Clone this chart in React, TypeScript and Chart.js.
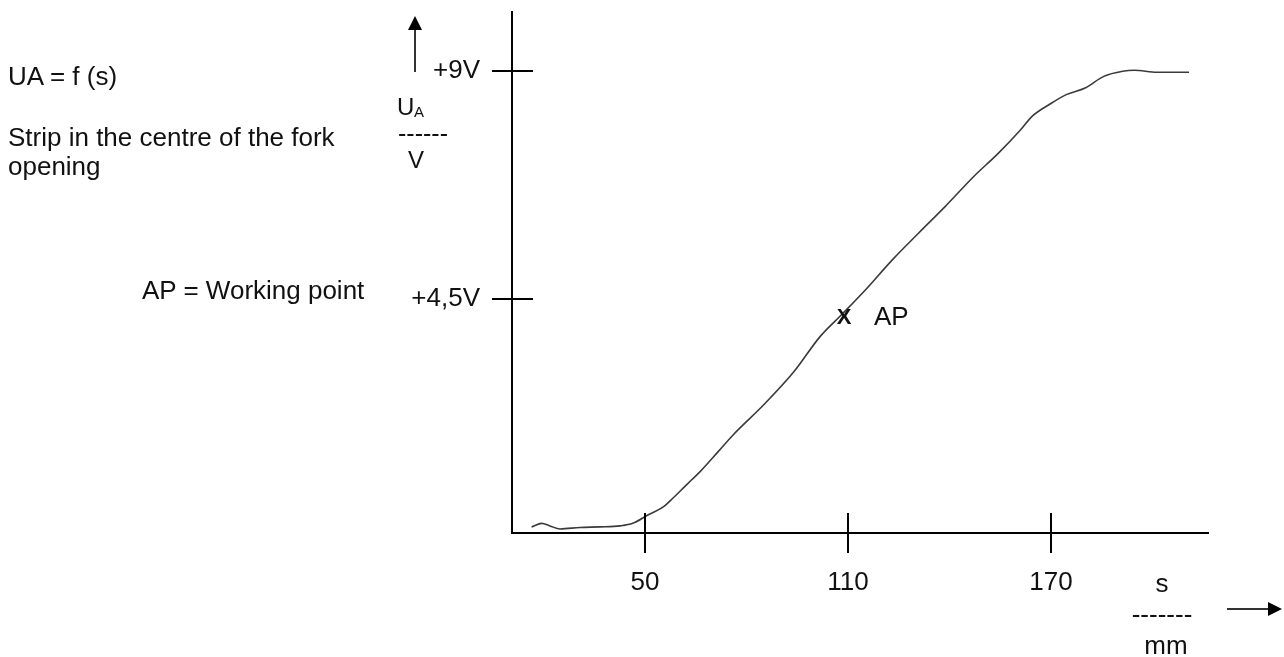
import React, { useEffect, useRef } from "react";
import { Chart, registerables } from "chart.js";

Chart.register(...registerables);

// ---- data ----
const S_MM = [16.5, 19.5, 21.9, 24.9, 30.8, 36.7, 42.6, 46.4, 51.0, 55.3, 58.3, 61.2, 63.8, 66.3, 71.7, 76.1, 85.1, 94.0, 101.8, 108.3, 115.2, 123.1, 130.9, 138.7, 147.1, 154.4, 161.1, 164.4, 169.4, 174.5, 180.1, 185.6, 191.2, 194.6, 201.3, 210.8];
const UA_V = [0.0, 0.07, 0.02, -0.04, -0.01, 0.0, 0.02, 0.07, 0.24, 0.39, 0.57, 0.76, 0.93, 1.09, 1.49, 1.82, 2.41, 3.06, 3.76, 4.2, 4.68, 5.27, 5.8, 6.32, 6.91, 7.37, 7.84, 8.1, 8.33, 8.53, 8.66, 8.89, 8.99, 9.01, 8.97, 8.97];
const AP_S = [110];
const AP_V = [4.12];
const X_TICKS = [50, 110, 170];
const Y_TICKS = [4.5, 9];
const Y_TICK_LABELS = ["+4,5V", "+9V"];
const X_RANGE = [10.7, 216.4];
const Y_RANGE = [-0.12, 10.16];

const FONT = "'Liberation Sans', Arial, Helvetica, sans-serif";
const INK = "#111";

const annotPlugin = {
  id: "annot",
  afterDraw(chart: any) {
    const ctx = chart.ctx as CanvasRenderingContext2D;
    const xs = chart.scales.x;
    const ys = chart.scales.y;
    const a = chart.chartArea;
    ctx.save();
    // inner halves of the crossing tick marks
    ctx.strokeStyle = "#000";
    ctx.lineWidth = 2;
    for (const t of X_TICKS) {
      const px = Math.round(xs.getPixelForValue(t));
      ctx.beginPath();
      ctx.moveTo(px, a.bottom);
      ctx.lineTo(px, a.bottom - 20);
      ctx.stroke();
    }
    for (const t of Y_TICKS) {
      const py = Math.round(ys.getPixelForValue(t));
      ctx.beginPath();
      ctx.moveTo(a.left, py);
      ctx.lineTo(a.left + 21, py);
      ctx.stroke();
    }

    // working point marker
    const pt = chart.getDatasetMeta(1).data[0];
    ctx.fillStyle = INK;
    ctx.textBaseline = "middle";
    ctx.textAlign = "center";
    ctx.font = `bold 22px ${FONT}`;
    ctx.fillText("X", pt.x - 4, pt.y);
    ctx.textAlign = "left";
    ctx.font = `26px ${FONT}`;
    ctx.fillText("AP", pt.x + 26, pt.y);

    // y-axis quantity arrow
    ctx.strokeStyle = "#333";
    ctx.lineWidth = 2;
    ctx.beginPath();
    ctx.moveTo(415, 72);
    ctx.lineTo(415, 28);
    ctx.stroke();
    ctx.fillStyle = "#000";
    ctx.beginPath();
    ctx.moveTo(408, 30);
    ctx.lineTo(422, 30);
    ctx.lineTo(415, 16);
    ctx.closePath();
    ctx.fill();

    // x-axis quantity arrow
    ctx.beginPath();
    ctx.moveTo(1227, 609);
    ctx.lineTo(1270, 609);
    ctx.stroke();
    ctx.beginPath();
    ctx.moveTo(1268, 602);
    ctx.lineTo(1268, 616);
    ctx.lineTo(1282, 609);
    ctx.closePath();
    ctx.fill();

    // unit labels
    ctx.fillStyle = INK;
    ctx.textBaseline = "alphabetic";
    ctx.textAlign = "left";
    ctx.font = `24px ${FONT}`;
    ctx.fillText("U", 397, 115);
    ctx.font = `15px ${FONT}`;
    ctx.fillText("A", 414, 117);
    ctx.textAlign = "center";
    ctx.font = `25px ${FONT}`;
    ctx.fillText("------", 423, 142);
    ctx.font = `24px ${FONT}`;
    ctx.fillText("V", 416, 168);

    ctx.font = `26px ${FONT}`;
    ctx.fillText("s", 1162, 592);
    ctx.fillText("-------", 1162, 623);
    ctx.fillText("mm", 1166, 654);
    ctx.restore();
  },
};

export default function App() {
  const ref = useRef<HTMLCanvasElement>(null);

  useEffect(() => {
    const chart = new Chart(ref.current as HTMLCanvasElement, {
      type: "line",
      data: {
        datasets: [
          {
            data: S_MM.map((s, i) => ({ x: s, y: UA_V[i] })),
            borderColor: "#3a3a3a",
            borderWidth: 1.6,
            pointRadius: 0,
            cubicInterpolationMode: "monotone",
            fill: false,
          },
          {
            data: AP_S.map((s, i) => ({ x: s, y: AP_V[i] })),
            pointRadius: 0,
            showLine: false,
            borderColor: "rgba(0,0,0,0)",
          },
        ],
      },
      options: {
        responsive: false,
        animation: false,
        events: [],
        layout: { padding: { left: 0, right: 76, top: 12, bottom: 0 } },
        plugins: { legend: { display: false }, tooltip: { enabled: false } },
        scales: {
          x: {
            type: "linear",
            min: X_RANGE[0],
            max: X_RANGE[1],
            afterBuildTicks: (s: any) => {
              s.ticks = X_TICKS.map((v) => ({ value: v }));
            },
            afterFit: (s: any) => {
              s.height = 124;
              s.paddingLeft = 0;
              s.paddingRight = 0;
            },
            grid: { display: true, drawOnChartArea: false, drawTicks: true, tickLength: 20, color: "#000", lineWidth: 2 },
            border: { display: true, color: "#000", width: 2 },
            ticks: {
              padding: 14,
              color: INK,
              font: { family: FONT, size: 26 },
              maxRotation: 0,
              autoSkip: false,
              callback: (v: any) => String(v),
            },
          },
          y: {
            type: "linear",
            min: Y_RANGE[0],
            max: Y_RANGE[1],
            afterBuildTicks: (s: any) => {
              s.ticks = Y_TICKS.map((v) => ({ value: v }));
            },
            afterFit: (s: any) => {
              s.width = 512;
              s.paddingTop = 0;
              s.paddingBottom = 0;
            },
            grid: { display: true, drawOnChartArea: false, drawTicks: true, tickLength: 20, color: "#000", lineWidth: 2 },
            border: { display: true, color: "#000", width: 2 },
            ticks: {
              padding: 12,
              color: INK,
              font: { family: FONT, size: 26 },
              autoSkip: false,
              callback: (v: any) => {
                const i = Y_TICKS.indexOf(Number(v));
                return i >= 0 ? Y_TICK_LABELS[i] : "";
              },
            },
          },
        },
      },
      plugins: [annotPlugin],
    } as any);
    return () => chart.destroy();
  }, []);

  const note: React.CSSProperties = {
    position: "absolute",
    left: 8,
    fontFamily: FONT,
    fontSize: 26,
    color: INK,
    lineHeight: "30px",
    whiteSpace: "nowrap",
  };

  return (
    <div style={{ position: "fixed", left: 0, top: 0, width: 1284, height: 657, background: "#fff", overflow: "hidden" }}>
      <canvas ref={ref} width={1284} height={657} style={{ position: "absolute", left: 0, top: 0, display: "block" }} />
      <div style={{ ...note, top: 61 }}>UA = f (s)</div>
      <div style={{ ...note, top: 123, lineHeight: "29px" }}>
        Strip in the centre of the fork
        <br />
        opening
      </div>
      <div style={{ ...note, left: 142, top: 275 }}>AP = Working point</div>
    </div>
  );
}
